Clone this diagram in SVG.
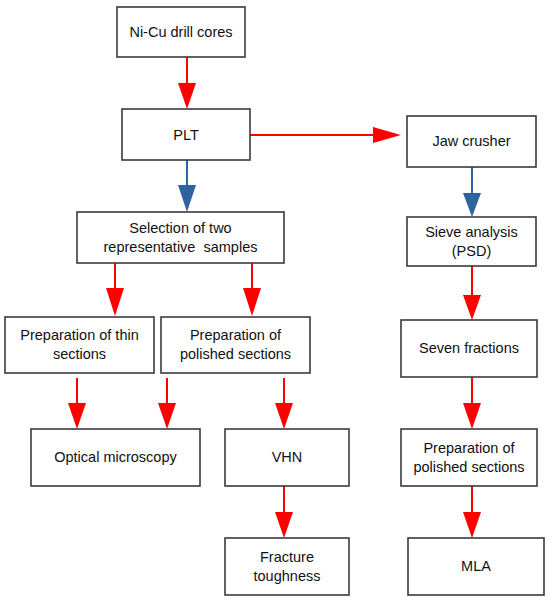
<svg xmlns="http://www.w3.org/2000/svg" width="550" height="601" viewBox="0 0 550 601">
<style>
.box{fill:#fff;stroke:#3a3a3a;stroke-width:1.6}
.t{font-family:"Liberation Sans",Arial,sans-serif;font-size:14.5px;fill:#111;text-anchor:middle}
.r{stroke:#ff0000;stroke-width:2;fill:none}
.rh{fill:#ff0000}
.b{stroke:#2e62a0;stroke-width:2;fill:none}
.bh{fill:#2e62a0}
</style>
<rect width="550" height="601" fill="#fff"/>
<g id="connectors">
<path class="r" d="M187,57V84"/><path class="rh" d="M178,83H196L187,109Z"/>
<path class="r" d="M250,135H374"/><path class="rh" d="M373,127V143L401,135Z"/>
<path class="b" d="M187,160V186"/><path class="bh" d="M178,185H196L187,212Z"/>
<path class="r" d="M115,263V289"/><path class="rh" d="M106,288H124L115,316Z"/>
<path class="r" d="M252,263V289"/><path class="rh" d="M243,288H261L252,316Z"/>
<path class="r" d="M77,378V404"/><path class="rh" d="M68,403H86L77,429Z"/>
<path class="r" d="M167,378V404"/><path class="rh" d="M158,403H176L167,429Z"/>
<path class="r" d="M284,378V404"/><path class="rh" d="M275,403H293L284,429Z"/>
<path class="r" d="M284,486V513"/><path class="rh" d="M275,512H293L284,538Z"/>
<path class="b" d="M472,167V194"/><path class="bh" d="M463,193H481L472,217Z"/>
<path class="r" d="M472,266V296"/><path class="rh" d="M463,295H481L472,320Z"/>
<path class="r" d="M472,377V404"/><path class="rh" d="M463,403H481L472,429Z"/>
<path class="r" d="M472,486V513"/><path class="rh" d="M463,512H481L472,538Z"/>
</g>
<g id="ni-cu"><rect class="box" x="117" y="7" width="128" height="50"/><text class="t" x="181" y="37">Ni-Cu drill cores</text></g>
<g id="plt"><rect class="box" x="122" y="109" width="128" height="51"/><text class="t" x="186" y="140">PLT</text></g>
<g id="jaw"><rect class="box" x="407" y="116" width="129" height="51"/><text class="t" x="471.5" y="146">Jaw crusher</text></g>
<g id="selection"><rect class="box" x="77" y="212" width="207" height="51"/><text class="t" x="180.5" y="233">Selection of two</text><text class="t" x="180.5" y="252" style="white-space:pre">representative  samples</text></g>
<g id="sieve"><rect class="box" x="407" y="217" width="129" height="49"/><text class="t" x="471.5" y="237">Sieve analysis</text><text class="t" x="471.5" y="256">(PSD)</text></g>
<g id="prep-thin"><rect class="box" x="5" y="317" width="149" height="56"/><text class="t" x="79.5" y="340">Preparation of thin</text><text class="t" x="79.5" y="359">sections</text></g>
<g id="prep-polished"><rect class="box" x="161" y="317" width="149" height="56"/><text class="t" x="235.5" y="340">Preparation of</text><text class="t" x="235.5" y="359">polished sections</text></g>
<g id="seven"><rect class="box" x="401" y="320" width="136" height="57"/><text class="t" x="469" y="353">Seven fractions</text></g>
<g id="optical"><rect class="box" x="31" y="429" width="169" height="57"/><text class="t" x="115.5" y="462">Optical microscopy</text></g>
<g id="vhn"><rect class="box" x="225" y="429" width="124" height="57"/><text class="t" x="287" y="462">VHN</text></g>
<g id="prep-polished-2"><rect class="box" x="401" y="429" width="136" height="57"/><text class="t" x="469" y="453">Preparation of</text><text class="t" x="469" y="472">polished sections</text></g>
<g id="fracture"><rect class="box" x="225" y="538" width="124" height="57"/><text class="t" x="287" y="562">Fracture</text><text class="t" x="287" y="581">toughness</text></g>
<g id="mla"><rect class="box" x="408" y="538" width="136" height="57"/><text class="t" x="476" y="571">MLA</text></g>
</svg>
